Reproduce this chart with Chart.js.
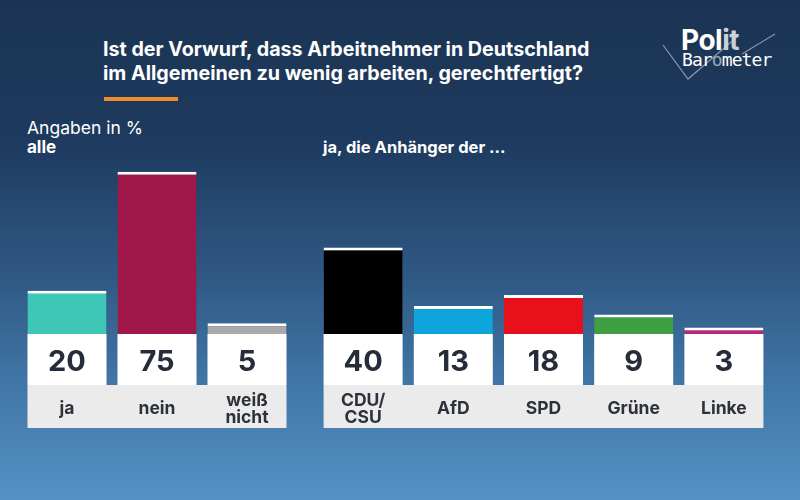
<!DOCTYPE html>
<html>
<head>
<meta charset="utf-8">
<script src="https://cdn.jsdelivr.net/npm/chart.js@4/dist/chart.umd.min.js"></script>
<style>
  html,body{margin:0;padding:0;}
  body{width:800px;height:500px;overflow:hidden;font-family:Inter,"Noto Sans",sans-serif;}
  #stage{position:relative;width:800px;height:500px;
    background:linear-gradient(180deg,#1b3453 0%,#1e3a5e 28%,#274a72 42%,#2f5883 55%,#3f74a4 75%,#5591c3 100%);}
  #stage canvas{position:absolute;left:0;top:0;}
  .txt{position:absolute;color:#fff;white-space:nowrap;}
  #title{left:103px;top:37px;font-size:19.7px;font-weight:700;line-height:24px;}
  #rule{position:absolute;left:104px;top:97px;width:74px;height:4px;background:#f08a2c;}
  #unit{left:27px;top:117px;font-size:17.5px;}
  #alle{left:27px;top:137px;font-size:17px;font-weight:700;}
  #parties{left:323px;top:137px;font-size:16.5px;font-weight:700;}
  #logo1{left:681px;top:23px;font-size:28px;font-weight:700;letter-spacing:-0.5px;}
  #logo2{left:682px;top:49px;font-size:18px;font-family:"DejaVu Sans Mono","Liberation Mono",monospace;letter-spacing:-0.9px;}
</style>
</head>
<body>
<div id="stage">
  <svg width="800" height="500" style="position:absolute;left:0;top:0">
    <polyline points="663,45 688,79 737,37" fill="none" stroke="#8799b0" stroke-width="1.2"/>
    <polyline points="742,54 775,34" fill="none" stroke="#8799b0" stroke-width="1.2"/>
  </svg>
  <div class="txt" id="logo1">Pol<span style="color:#c9d1db">it</span></div>
  <div class="txt" id="logo2">Bar<span style="color:#9aa6b4">o</span>meter</div>
  <div class="txt" id="title">Ist der Vorwurf, dass Arbeitnehmer in Deutschland<br>im Allgemeinen zu wenig arbeiten, gerechtfertigt?</div>
  <div id="rule"></div>
  <div class="txt" id="unit">Angaben in %</div>
  <div class="txt" id="alle">alle</div>
  <div class="txt" id="parties">ja, die Anhänger der ...</div>
  <canvas id="c1" width="800" height="500"></canvas>
  <canvas id="c2" width="800" height="500"></canvas>
</div>
<script>
// all respondents
const allLabels = [['ja'], ['nein'], ['weiß', 'nicht']];
const allValues = [20, 75, 5];
const allColors = ['#3ec7b7', '#a0174a', '#a9a9a9'];

// "ja" by party supporters
const partyLabels = [['CDU/', 'CSU'], ['AfD'], ['SPD'], ['Grüne'], ['Linke']];
const partyValues = [40, 13, 18, 9, 3];
const partyColors = ['#000000', '#0ea4dc', '#e8101b', '#3f9f43', '#c0237e'];

const yMax = 80;

// white value boxes and grey label strip below the bars
const boxesPlugin = {
  id: 'boxes',
  afterDatasetsDraw(chart) {
    const ctx = chart.ctx;
    const meta = chart.getDatasetMeta(0);
    const base = chart.scales.y.getPixelForValue(0);
    const labels = chart.data.labels;
    const vals = chart.data.datasets[0].data;
    const first = meta.data[0], last = meta.data[meta.data.length - 1];
    ctx.save();
    ctx.fillStyle = '#ebebeb';
    ctx.fillRect(first.x - first.width / 2, base + 51, (last.x + last.width / 2) - (first.x - first.width / 2), 43);
    meta.data.forEach((bar, i) => {
      const l = bar.x - bar.width / 2;
      ctx.fillStyle = '#ffffff';
      ctx.fillRect(l, base, bar.width, 51);
      ctx.fillStyle = '#252c3a';
      ctx.font = '700 29px Inter, "Noto Sans", sans-serif';
      ctx.textAlign = 'center';
      ctx.textBaseline = 'middle';
      ctx.fillText(String(vals[i]), bar.x, base + 28);
      ctx.fillStyle = '#2d313a';
      ctx.font = '700 17.5px Inter, "Noto Sans", sans-serif';
      const lines = labels[i];
      const mid = base + 51 + 24;
      lines.forEach((t, k) => {
        ctx.fillText(t, bar.x, mid + (k - (lines.length - 1) / 2) * 17.5);
      });
    });
    ctx.restore();
  }
};

function makeChart(id, labels, values, colors, padLeft, padRight, barPct) {
  return new Chart(document.getElementById(id), {
    type: 'bar',
    data: {
      labels: labels,
      datasets: [{
        data: values,
        backgroundColor: colors,
        borderColor: '#ffffff',
        borderWidth: { top: 3, right: 0, bottom: 0, left: 0 },
        borderSkipped: false,
        barPercentage: barPct,
        categoryPercentage: 1
      }]
    },
    options: {
      responsive: false,
      animation: false,
      layout: { padding: { left: padLeft, right: padRight, top: 161, bottom: 166 } },
      scales: {
        x: { display: false },
        y: { display: false, min: 0, max: yMax }
      },
      plugins: { legend: { display: false }, tooltip: { enabled: false } }
    },
    plugins: [boxesPlugin]
  });
}

makeChart('c1', allLabels, allValues, allColors, 22, 508, 0.878);
makeChart('c2', partyLabels, partyValues, partyColors, 318, 31, 0.876);
</script>
</body>
</html>
